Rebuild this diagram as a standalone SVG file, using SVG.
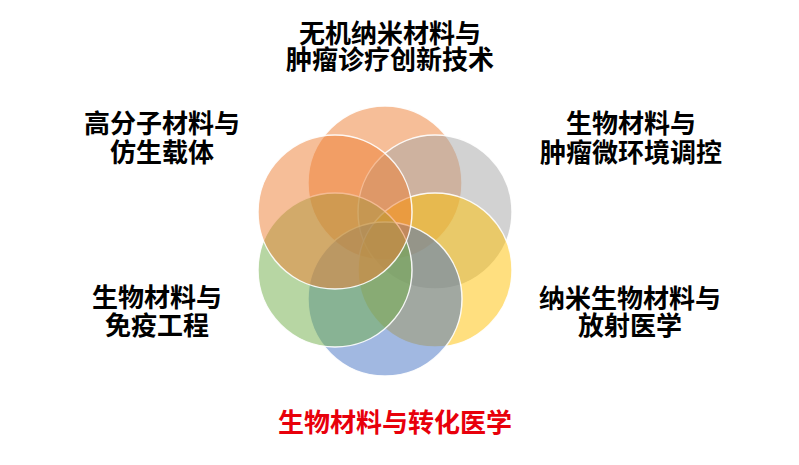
<svg xmlns="http://www.w3.org/2000/svg" width="799" height="465" viewBox="0 0 799 465">
<style>
.c{fill-opacity:0.5;stroke:#ffffff;stroke-width:1.5;stroke-opacity:0.9}
.t{font-family:"Noto Sans CJK SC","Noto Sans",sans-serif;font-weight:bold;font-size:26px;fill:#000000;text-anchor:middle}
.r{fill:#e8000b}
</style>
<rect width="799" height="465" fill="#ffffff"/>
<g id="connectors"></g>
<g id="node-top">
<circle class="c" cx="385" cy="183" r="77" fill="#ED7D31"/>
<text class="t" x="390" y="42.5">无机纳米材料与</text>
<text class="t" x="390" y="69">肿瘤诊疗创新技术</text>
</g>
<g id="node-right-top">
<circle class="c" cx="435" cy="212" r="77" fill="#A5A5A5"/>
<text class="t" x="631" y="132.5">生物材料与</text>
<text class="t" x="631" y="162">肿瘤微环境调控</text>
</g>
<g id="node-right-bottom">
<circle class="c" cx="435" cy="270" r="77" fill="#FFC000"/>
<text class="t" x="630" y="307.5">纳米生物材料与</text>
<text class="t" x="630" y="334.5">放射医学</text>
</g>
<g id="node-bottom">
<circle class="c" cx="385" cy="299" r="77" fill="#4472C4"/>
<text class="t r" x="395" y="431.5">生物材料与转化医学</text>
</g>
<g id="node-left-bottom">
<circle class="c" cx="335" cy="270" r="77" fill="#70AD47"/>
<text class="t" x="157" y="307">生物材料与</text>
<text class="t" x="157" y="334.5">免疫工程</text>
</g>
<g id="node-left-top">
<circle class="c" cx="335" cy="212" r="77" fill="#ED7D31"/>
<text class="t" x="162" y="133">高分子材料与</text>
<text class="t" x="162" y="162">仿生载体</text>
</g>
</svg>
